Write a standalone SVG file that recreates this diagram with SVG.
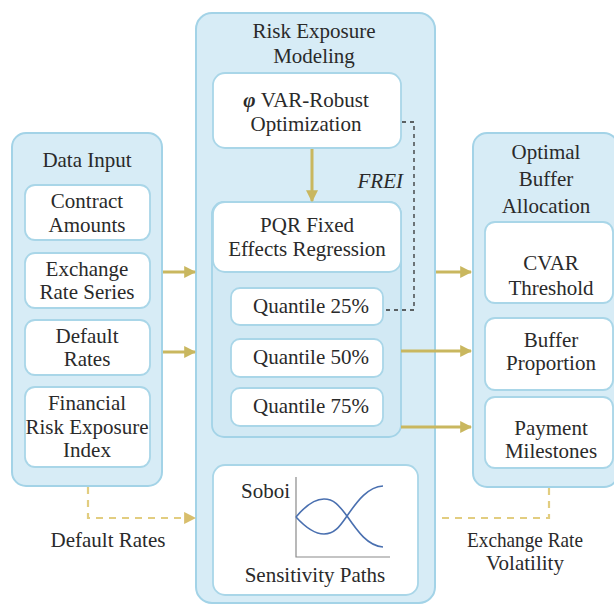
<svg xmlns="http://www.w3.org/2000/svg" width="614" height="604" viewBox="0 0 614 604" font-family="'Times New Roman', Times, 'Liberation Serif', serif">
<defs>
<style>
.panel{fill:#d7ecf6;stroke:#a3d3e7;stroke-width:2}
.sub{fill:#d2e9f4;stroke:#a3d3e7;stroke-width:1.8}
.box{fill:#ffffff;stroke:#a9d6e8;stroke-width:1.8}
text{font-family:'Times New Roman',Times,'Liberation Serif',serif;font-size:21px;fill:#2a2a2a;text-anchor:middle}
.arrow{stroke:#c9b75f;stroke-width:3;fill:none}
.ydash{stroke:#e2cd80;stroke-width:2.2;fill:none;stroke-dasharray:7 6}
.kdash{stroke:#333;stroke-width:1.3;fill:none;stroke-dasharray:4 4}
.curve{stroke:#4a70b0;stroke-width:1.6;fill:none}
</style>
<marker id="ah" viewBox="0 0 10 10" refX="9" refY="5" markerWidth="4" markerHeight="4" orient="auto" markerUnits="strokeWidth">
<path d="M0,0 L10,5 L0,10 z" fill="#c9b75f"/>
</marker>
<marker id="ahy" viewBox="0 0 10 10" refX="9" refY="5" markerWidth="5.5" markerHeight="5.5" orient="auto" markerUnits="strokeWidth">
<path d="M0,0 L10,5 L0,10 z" fill="#d8be6c"/>
</marker>
</defs>
<rect width="614" height="604" fill="#ffffff"/>

<g id="data-input">
<rect class="panel" x="12" y="133" width="150" height="353" rx="14"/>
<text x="87" y="167">Data Input</text>
<g id="contract-amounts">
<rect class="box" x="25" y="185" width="125" height="55" rx="10"/>
<text x="87" y="208">Contract</text>
<text x="87" y="232">Amounts</text>
</g>
<g id="exchange-rate-series">
<rect class="box" x="25" y="253" width="125" height="55" rx="10"/>
<text x="87" y="276">Exchange</text>
<text x="87" y="299">Rate Series</text>
</g>
<g id="default-rates">
<rect class="box" x="25" y="320" width="125" height="55" rx="10"/>
<text x="87" y="343">Default</text>
<text x="87" y="366">Rates</text>
</g>
<g id="frei">
<rect class="box" x="25" y="387" width="125" height="80" rx="10"/>
<text x="87" y="410">Financial</text>
<text x="87" y="434">Risk Exposure</text>
<text x="87" y="457">Index</text>
</g>
</g>

<g id="risk-exposure-modeling">
<rect class="panel" x="196" y="13" width="239" height="590" rx="16"/>
<text x="314" y="38">Risk Exposure</text>
<text x="314" y="63">Modeling</text>
<g id="var-robust">
<rect class="box" x="213" y="73" width="188" height="75" rx="12"/>
<text x="306" y="107"><tspan font-style="italic" font-weight="bold">φ</tspan> VAR-Robust</text>
<text x="306" y="131">Optimization</text>
</g>
<g id="pqr">
<rect class="sub" x="212" y="202" width="189" height="235" rx="12"/>
<rect class="box" x="213" y="202" width="188" height="70" rx="12"/>
<text x="307" y="232">PQR Fixed</text>
<text x="307" y="256">Effects Regression</text>
</g>
<g id="q25">
<rect class="box" x="231" y="288" width="152" height="37" rx="9"/>
<text x="311" y="313">Quantile 25%</text>
</g>
<g id="q50">
<rect class="box" x="231" y="339" width="152" height="38" rx="9"/>
<text x="311" y="364">Quantile 50%</text>
</g>
<g id="q75">
<rect class="box" x="231" y="388" width="152" height="38" rx="9"/>
<text x="311" y="413">Quantile 75%</text>
</g>
<g id="sensitivity">
<rect class="box" x="213" y="465" width="205" height="130" rx="12"/>
<text x="290" y="498" style="text-anchor:end">Soboi</text>
<path d="M296,477 V557 H390" stroke="#8a8a8a" stroke-width="1.2" fill="none"/>
<path class="curve" d="M296,517 C306,505 315,499 324,499 C335,499 340,507 347,516 C358,532 368,546 383,547"/>
<path class="curve" d="M296,517 C306,528 315,534 324,534 C335,534 340,526 347,516 C358,500 368,487 383,486"/>
<text x="315" y="582">Sensitivity Paths</text>
</g>
</g>

<g id="optimal-buffer">
<rect class="panel" x="473" y="133" width="145" height="354" rx="14"/>
<text x="546" y="159">Optimal</text>
<text x="546" y="186">Buffer</text>
<text x="546" y="213">Allocation</text>
<g id="cvar">
<rect class="box" x="485" y="222" width="128" height="81" rx="10"/>
<text x="551" y="270">CVAR</text>
<text x="551" y="295">Threshold</text>
</g>
<g id="buffer-proportion">
<rect class="box" x="485" y="318" width="128" height="72" rx="10"/>
<text x="551" y="347">Buffer</text>
<text x="551" y="370">Proportion</text>
</g>
<g id="payment-milestones">
<rect class="box" x="485" y="397" width="128" height="71" rx="10"/>
<text x="551" y="435">Payment</text>
<text x="551" y="458">Milestones</text>
</g>
</g>

<g id="connectors">
<line class="arrow" x1="163" y1="272" x2="195" y2="272" marker-end="url(#ah)"/>
<line class="arrow" x1="163" y1="352" x2="195" y2="352" marker-end="url(#ah)"/>
<line class="arrow" x1="312" y1="149" x2="312" y2="201" marker-end="url(#ah)"/>
<line class="arrow" x1="436" y1="272" x2="471" y2="272" marker-end="url(#ah)"/>
<line class="arrow" x1="401" y1="351" x2="471" y2="351" marker-end="url(#ah)"/>
<line class="arrow" x1="401" y1="427" x2="471" y2="427" marker-end="url(#ah)"/>
<path class="kdash" d="M402,122 H414 V310 H384"/>
<text x="403" y="188" style="text-anchor:end;font-style:italic">FREI</text>
<path class="ydash" d="M88,487 V518 H195" marker-end="url(#ahy)"/>
<path class="ydash" d="M549,488 V518 H436"/>
<text x="108" y="547">Default Rates</text>
<text x="525" y="547" textLength="116" lengthAdjust="spacingAndGlyphs">Exchange Rate</text>
<text x="525" y="570">Volatility</text>
</g>
</svg>
